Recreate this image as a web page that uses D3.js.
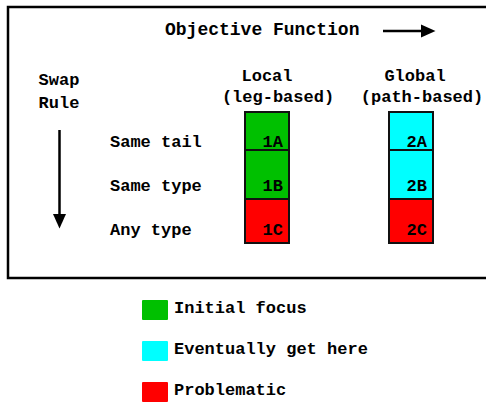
<!DOCTYPE html>
<html>
<head>
<meta charset="utf-8">
<script src="https://cdn.jsdelivr.net/npm/d3@7"></script>
<style>
  body { margin: 0; background: #fff; }
  text {
    font-family: "Liberation Mono", "Courier New", monospace;
    font-weight: bold;
    font-size: 17px;
    fill: #000;
  }
</style>
</head>
<body>
<script>
const w = 486,
  h = 403;

const columns = ['Local', 'Global'];
const subtitles = ['(leg-based)', '(path-based)'];
const rows = ['Same tail', 'Same type', 'Any type'];
// heights of the stacked segments, top to bottom
const rowSizes = [38, 49, 44];
const cellCodes = [
  ['1A', '1B', '1C'],
  ['2A', '2B', '2C']
];
const cellKinds = [
  ['initial', 'initial', 'problem'],
  ['eventual', 'eventual', 'problem']
];
const legendKeys = ['initial', 'eventual', 'problem'];
const legendLabels = ['Initial focus', 'Eventually get here', 'Problematic'];

const colors = d3
  .scaleOrdinal()
  .domain(legendKeys)
  .range(['#00c000', '#00ffff', '#ff0000']);

const svg = d3
  .select('body')
  .append('svg')
  .attr('width', w)
  .attr('height', h);

// frame
svg
  .append('rect')
  .attr('x', 8)
  .attr('y', 7)
  .attr('width', 500)
  .attr('height', 271)
  .attr('fill', 'none')
  .attr('stroke', '#000')
  .attr('stroke-width', 2.5);

const xCol = d3.scalePoint().domain(columns).range([267, 411]);
const yRow = d3.scalePoint().domain(rows).range([147, 235]);
const yBar = d3
  .scaleLinear()
  .domain([0, d3.sum(rowSizes)])
  .range([112, 243]);
const barW = 44;
const ends = d3.cumsum(rowSizes);

// title + arrow
svg
  .append('text')
  .attr('x', 165)
  .attr('y', 35)
  .style('font-size', '18px')
  .text('Objective Function');

svg
  .append('line')
  .attr('x1', 383)
  .attr('x2', 423)
  .attr('y1', 31)
  .attr('y2', 31)
  .attr('stroke', '#000')
  .attr('stroke-width', 2.5);
svg
  .append('path')
  .attr('d', 'M421,24.5L435.5,31L421,37.5Z')
  .attr('fill', '#000');

// swap rule + arrow
svg.append('text').attr('x', 59).attr('y', 85).attr('text-anchor', 'middle').text('Swap');
svg.append('text').attr('x', 59).attr('y', 108).attr('text-anchor', 'middle').text('Rule');

svg
  .append('line')
  .attr('x1', 59.5)
  .attr('x2', 59.5)
  .attr('y1', 130)
  .attr('y2', 216)
  .attr('stroke', '#000')
  .attr('stroke-width', 2.5);
svg
  .append('path')
  .attr('d', 'M53,214L59.5,228.5L66,214Z')
  .attr('fill', '#000');

// column headers
svg
  .selectAll('text.col')
  .data(columns)
  .enter()
  .append('text')
  .attr('class', 'col')
  .attr('x', d => xCol(d) + (d === 'Global' ? 4 : 0))
  .attr('y', 81)
  .attr('text-anchor', 'middle')
  .text(d => d);

svg
  .selectAll('text.sub')
  .data(subtitles)
  .enter()
  .append('text')
  .attr('class', 'sub')
  .attr('x', (d, i) => xCol(columns[i]) + 11)
  .attr('y', 102)
  .attr('text-anchor', 'middle')
  .text(d => d);

// row labels
svg
  .selectAll('text.row')
  .data(rows)
  .enter()
  .append('text')
  .attr('class', 'row')
  .attr('x', 110)
  .attr('y', d => yRow(d))
  .text(d => d);

// stacked cells
columns.forEach((col, ci) => {
  const g = svg.append('g');
  g.selectAll('rect')
    .data(rows)
    .enter()
    .append('rect')
    .attr('x', xCol(col) - barW / 2)
    .attr('y', (d, i) => yBar(ends[i] - rowSizes[i]))
    .attr('width', barW)
    .attr('height', (d, i) => yBar(ends[i]) - yBar(ends[i] - rowSizes[i]))
    .attr('fill', (d, i) => colors(cellKinds[ci][i]))
    .attr('stroke', '#111')
    .attr('stroke-width', 2);

  g.selectAll('text')
    .data(rows)
    .enter()
    .append('text')
    .attr('x', xCol(col) + 16)
    .attr('y', d => yRow(d))
    .attr('text-anchor', 'end')
    .text((d, i) => cellCodes[ci][i]);
});

// legend
const yLeg = d3.scalePoint().domain(legendKeys).range([300, 382]);
const leg = svg
  .selectAll('g.leg')
  .data(legendKeys)
  .enter()
  .append('g')
  .attr('class', 'leg')
  .attr('transform', d => `translate(142, ${yLeg(d)})`);

leg
  .append('rect')
  .attr('width', 26)
  .attr('height', 20)
  .attr('rx', 1)
  .attr('fill', d => colors(d));

leg
  .append('text')
  .attr('x', 32)
  .attr('y', 13)
  .text((d, i) => legendLabels[i]);
</script>
</body>
</html>
